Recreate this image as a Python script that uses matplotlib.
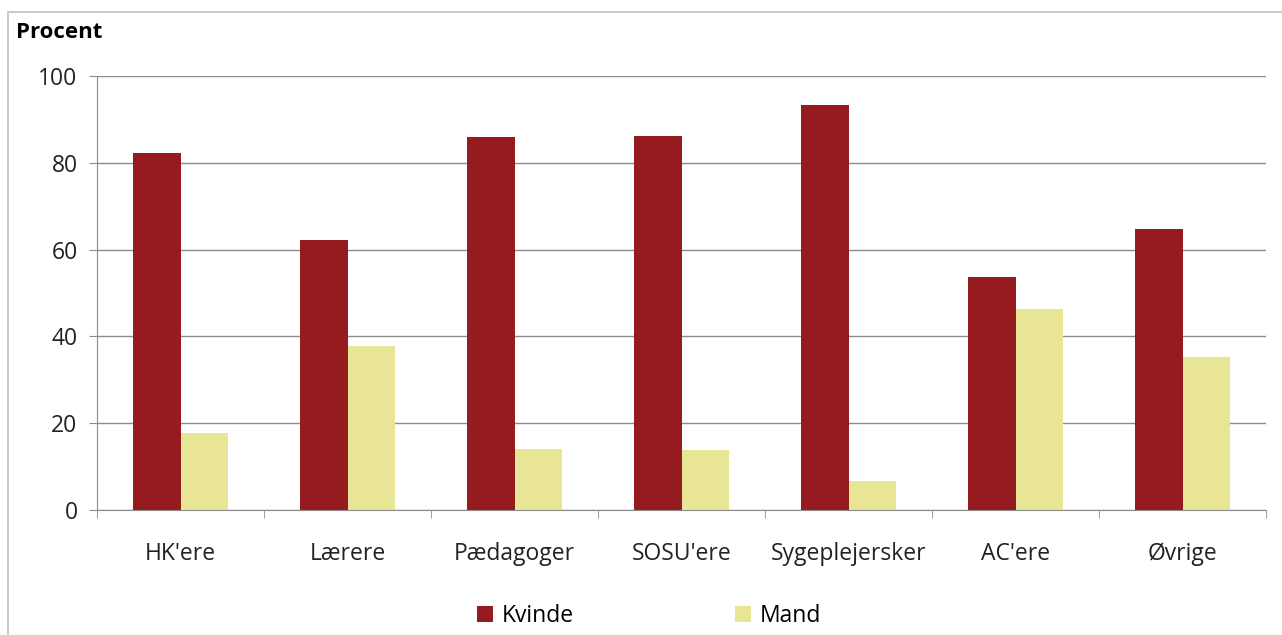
import matplotlib.pyplot as plt
import numpy as np
from matplotlib.patches import Rectangle

plt.rcParams['font.family'] = ['Open Sans', 'DejaVu Sans']

# data
faggrupper = ["HK'ere", "Lærere", "Pædagoger", "SOSU'ere", "Sygeplejersker", "AC'ere", "Øvrige"]
kvinde = [82.3, 62.2, 85.9, 86.2, 93.4, 53.8, 64.8]
mand = [17.7, 37.8, 14.1, 13.8, 6.6, 46.2, 35.2]

fig = plt.figure(figsize=(12.82, 6.35), dpi=100)
W, H = 1282, 635

# ydre ramme
fig.patches.append(Rectangle((8 / W, -0.1), 1.2, 1 - 12 / H + 0.1, transform=fig.transFigure,
                             fill=False, edgecolor='#c0c0c0', linewidth=1.2))

ax = fig.add_axes([97 / W, 1 - 510 / H, (1266 - 97) / W, (510 - 76) / H])

x = np.arange(len(faggrupper))
w = 0.285
ax.bar(x - w / 2, kvinde, w, color='#961b1e', label='Kvinde')
ax.bar(x + w / 2, mand, w, color='#e8e596', label='Mand')

ax.set_xlim(-0.5, len(faggrupper) - 0.5)
ax.set_ylim(0, 100)
ax.set_yticks(range(0, 101, 20))
ax.yaxis.grid(True, color='#8c8c8c', linewidth=1)
ax.set_axisbelow(True)
for s in ['top', 'right']:
    ax.spines[s].set_visible(False)
for s in ['left', 'bottom']:
    ax.spines[s].set_color('#8c8c8c')

ax.set_xticks(x)
ax.set_xticklabels(faggrupper)
ax.set_xticks(np.arange(-0.5, len(faggrupper)), minor=True)
ax.tick_params(axis='x', which='major', length=0, pad=23, labelsize=16.5, colors='#222222')
ax.tick_params(axis='x', which='minor', length=6, color='#8c8c8c')
ax.tick_params(axis='y', length=6, color='#8c8c8c', labelsize=16.5, pad=8, colors='#222222')

fig.text(16 / W, 1 - 33 / H, 'Procent', fontsize=16, fontweight='bold', va='center')

fig.legend(loc='center', bbox_to_anchor=(649 / W, 1 - 616 / H), ncol=2, frameon=False,
           fontsize=16.5, handlelength=0.7, handleheight=0.7, columnspacing=7.0, handletextpad=0.4)

plt.savefig('out.png', dpi=100)
